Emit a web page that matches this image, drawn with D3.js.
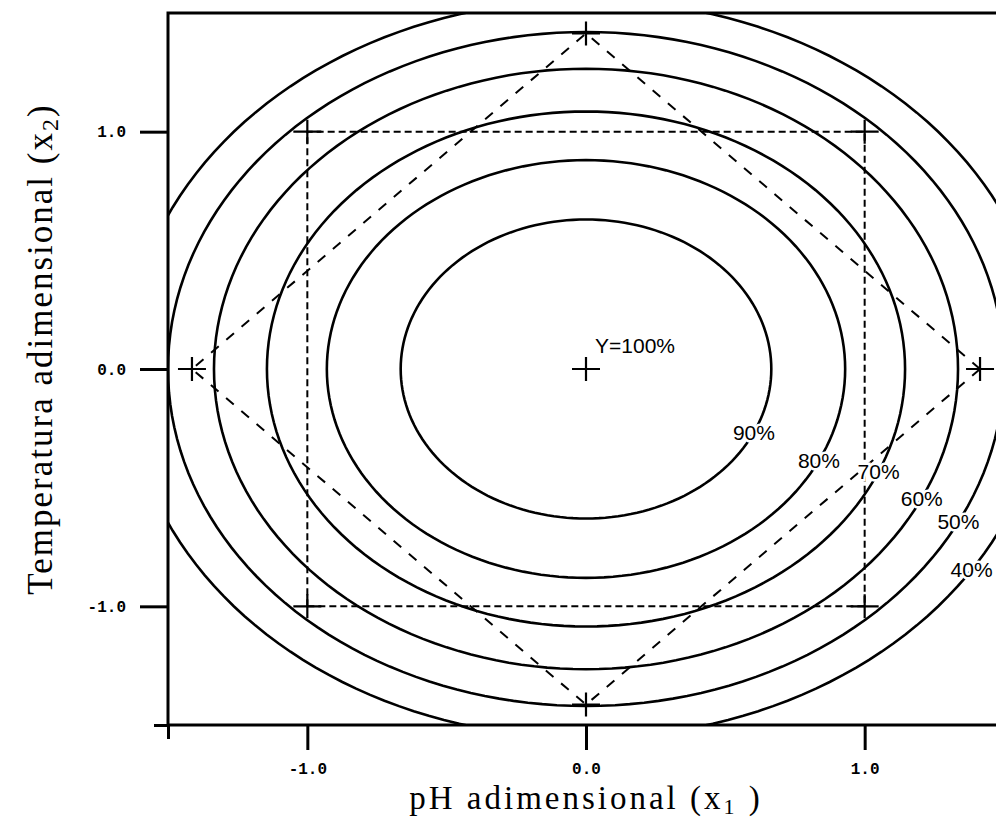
<!DOCTYPE html>
<html>
<head>
<meta charset="utf-8">
<script src="https://cdn.jsdelivr.net/npm/d3@7"></script>
<style>
  html, body { margin: 0; padding: 0; background: #fff; }
  svg { display: block; }
</style>
</head>
<body>
<div id="chart"></div>
<script>
// Contour levels of Y (%) and the semi-axes of each contour, in coded units
const levels = [90, 80, 70, 60, 50, 40];
const radiusX = [0.665, 0.93, 1.145, 1.335, 1.5, 1.65];
const radiusY = [0.63, 0.88, 1.085, 1.265, 1.42, 1.555];
// where each level label sits on its contour (degrees)
const labelAngle = [-25, -26, -23.5, -25.5, -27, -33];

// Design points: factorial square, axial star, center
const factorialX = [-1, 1, 1, -1];
const factorialY = [-1, -1, 1, 1];
const axialX = [1.414, 0, -1.414, 0];
const axialY = [0, 1.414, 0, -1.414];
const centerX = [0];
const centerY = [0];
const centerLabel = 'Y=100%';

const tickValues = [-1, 0, 1];
const tickLabels = ['-1.0', '0.0', '1.0'];

const width = 996;
const height = 820;

const x = d3.scaleLinear().domain([-1.5, 1.5]).range([168, 1004]);
const y = d3.scaleLinear().domain([-1.5, 1.5]).range([725, 13]);

const svg = d3.select('#chart')
  .append('svg')
  .attr('width', width)
  .attr('height', height);

svg.append('defs').append('clipPath')
  .attr('id', 'plot-clip')
  .append('rect')
  .attr('x', x(-1.5))
  .attr('y', y(1.5))
  .attr('width', x(1.5) - x(-1.5))
  .attr('height', y(-1.5) - y(1.5));

const plot = svg.append('g').attr('clip-path', 'url(#plot-clip)');

// contours
const steps = d3.range(0, 361, 2);
const ellipse = (rx, ry) => d3.line()
  .x((a) => x(rx * Math.cos(a * Math.PI / 180)))
  .y((a) => y(ry * Math.sin(a * Math.PI / 180)))(steps);

plot.selectAll('.contour')
  .data(levels)
  .enter()
  .append('path')
  .attr('class', 'contour')
  .attr('d', (d, i) => ellipse(radiusX[i], radiusY[i]))
  .attr('fill', 'none')
  .attr('stroke', '#000')
  .attr('stroke-width', 2.6);

// factorial square (dashed)
const square = factorialX.map((v, i) => [v, factorialY[i]]);
plot.append('path')
  .attr('d', d3.line().x((d) => x(d[0])).y((d) => y(d[1]))(square) + 'Z')
  .attr('fill', 'none')
  .attr('stroke', '#000')
  .attr('stroke-width', 2)
  .attr('stroke-dasharray', '7,4');

// axial diamond (dashed)
const diamond = axialX.map((v, i) => [v, axialY[i]]);
plot.append('path')
  .attr('d', d3.line().x((d) => x(d[0])).y((d) => y(d[1]))(diamond) + 'Z')
  .attr('fill', 'none')
  .attr('stroke', '#000')
  .attr('stroke-width', 2)
  .attr('stroke-dasharray', '10,10');

// design point crosses
const points = square.concat(diamond, centerX.map((v, i) => [v, centerY[i]]));
plot.selectAll('.pt')
  .data(points)
  .enter()
  .append('path')
  .attr('class', 'pt')
  .attr('d', (d) => {
    const px = x(d[0]);
    const py = y(d[1]);
    return `M${px - 14},${py}H${px + 14}M${px},${py - 12}V${py + 12}`;
  })
  .attr('stroke', '#000')
  .attr('stroke-width', 2.2);

// contour labels
plot.selectAll('.level-label')
  .data(levels)
  .enter()
  .append('text')
  .attr('class', 'level-label')
  .attr('x', (d, i) => x(radiusX[i] * Math.cos(labelAngle[i] * Math.PI / 180)))
  .attr('y', (d, i) => y(radiusY[i] * Math.sin(labelAngle[i] * Math.PI / 180)))
  .attr('dy', '0.35em')
  .attr('text-anchor', 'middle')
  .attr('font-family', 'Liberation Sans, Arial, sans-serif')
  .attr('font-size', 21)
  .attr('fill', '#000')
  .attr('stroke', '#fff')
  .attr('stroke-width', 5)
  .attr('paint-order', 'stroke')
  .text((d) => d + '%');

plot.append('text')
  .attr('x', x(centerX[0]) + 9)
  .attr('y', y(centerY[0]) - 16)
  .attr('font-family', 'Liberation Sans, Arial, sans-serif')
  .attr('font-size', 21)
  .attr('fill', '#000')
  .text(centerLabel);

// frame
svg.append('rect')
  .attr('x', x(-1.5))
  .attr('y', y(1.5))
  .attr('width', x(1.5) - x(-1.5))
  .attr('height', y(-1.5) - y(1.5))
  .attr('fill', 'none')
  .attr('stroke', '#000')
  .attr('stroke-width', 3);

// axes
const fmt = (d) => tickLabels[tickValues.indexOf(d)];

svg.append('g')
  .attr('transform', `translate(${x(-1.5)},0)`)
  .call(d3.axisLeft(y).tickValues(tickValues).tickSize(28).tickPadding(14).tickFormat(fmt));
svg.append('g')
  .attr('transform', `translate(${x(-1.5)},0)`)
  .call(d3.axisLeft(y).tickValues([-1.5]).tickSize(14).tickFormat(''));

svg.append('g')
  .attr('transform', `translate(0,${y(-1.5)})`)
  .call(d3.axisBottom(x).tickValues(tickValues).tickSize(25).tickPadding(13).tickFormat(fmt));
svg.append('g')
  .attr('transform', `translate(0,${y(-1.5)})`)
  .call(d3.axisBottom(x).tickValues([-1.5]).tickSize(14).tickFormat(''));

svg.selectAll('.domain').remove();
svg.selectAll('.tick line').attr('stroke', '#000').attr('stroke-width', 3);
svg.selectAll('.tick text')
  .attr('fill', '#000')
  .attr('font-family', 'Liberation Mono, Courier New, monospace')
  .attr('font-weight', 'bold')
  .attr('font-size', 16);

// axis titles
const xTitle = svg.append('text')
  .attr('x', x(0))
  .attr('y', 809)
  .attr('text-anchor', 'middle')
  .attr('font-family', 'Liberation Serif, Times New Roman, serif')
  .attr('font-size', 33)
  .attr('letter-spacing', 3)
  .attr('fill', '#000');
xTitle.append('tspan').text('pH adimensional (x');
xTitle.append('tspan').attr('dy', 5).attr('font-size', 22).text('1');
xTitle.append('tspan').attr('dy', -5).text(' )');

const yTitle = svg.append('text')
  .attr('transform', `translate(52,${y(0) - 20}) rotate(-90)`)
  .attr('text-anchor', 'middle')
  .attr('font-family', 'Liberation Serif, Times New Roman, serif')
  .attr('font-size', 35)
  .attr('letter-spacing', 2)
  .attr('fill', '#000');
yTitle.append('tspan').text('Temperatura adimensional (x');
yTitle.append('tspan').attr('dy', 6).attr('font-size', 24).text('2');
yTitle.append('tspan').attr('dy', -6).text(')');
</script>
</body>
</html>
